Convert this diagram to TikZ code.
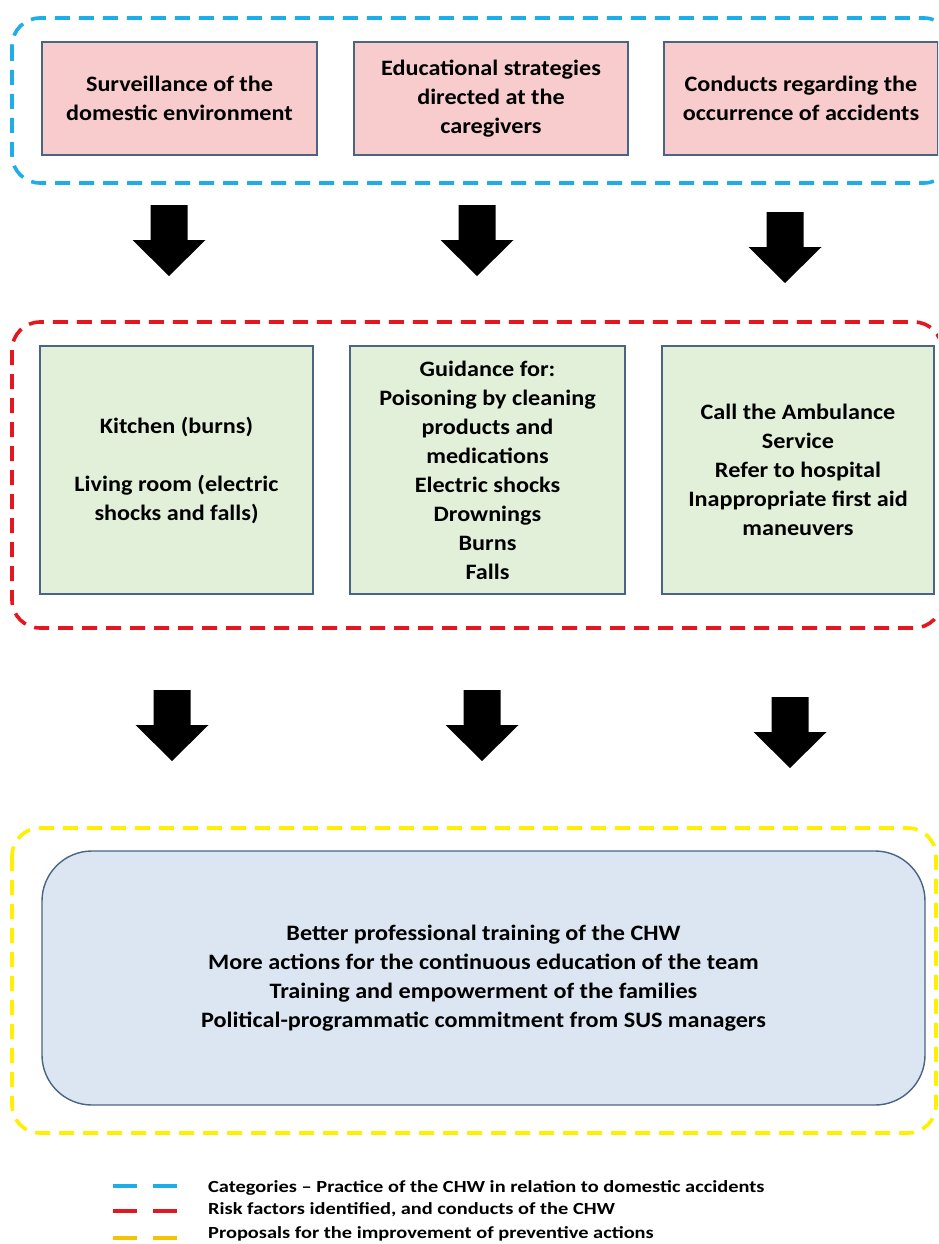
\documentclass[tikz,border=0pt]{standalone}
\usepackage{fontspec}
\setmainfont[FakeStretch=1.1]{Carlito}
\newfontfamily\legfont[FakeStretch=1.2]{Carlito}
\definecolor{pinkfill}{HTML}{F8CCCC}
\definecolor{greenfill}{HTML}{E2EFD9}
\definecolor{bluefill}{HTML}{DCE6F2}
\definecolor{boxedge}{HTML}{4A6584}
\definecolor{cyandash}{HTML}{1DAEEA}
\definecolor{reddash}{HTML}{E4161F}
\definecolor{yellowdash}{HTML}{FFF000}
\definecolor{legendyellow}{HTML}{F5C400}
\begin{document}
\begin{tikzpicture}[x=1pt,y=-1pt,
  font=\bfseries\fontsize{22}{29}\selectfont,
  catbox/.style={draw=boxedge, line width=1.8pt, fill=pinkfill, minimum height=113pt, align=center, inner sep=0pt},
  riskbox/.style={draw=boxedge, line width=1.8pt, fill=greenfill, minimum height=248pt, align=center, inner sep=0pt},
  propbox/.style={draw=boxedge, line width=1.4pt, fill=bluefill, rounded corners=50pt, minimum width=883pt, minimum height=254pt, align=center, inner sep=0pt},
  group/.style={line width=3.6pt, dash pattern=on 15pt off 9pt, rounded corners=28pt},
  legdash/.style={line width=4.5pt},
  legtext/.style={anchor=west, font=\legfont\bfseries\fontsize{17}{20}\selectfont, inner sep=0pt},
  blockdown/.pic={\fill[black] (-18.5,0) -- (18.5,0) -- (18.5,35) -- (36.5,35) -- (0,71) -- (-36.5,35) -- (-18.5,35) -- cycle;}
]
\useasboundingbox (0,0) rectangle (938,1244);
\clip (0,0) rectangle (938,1244);
\fill[white] (0,0) rectangle (938,1244);

% group outlines
\draw[group, draw=cyandash] (12,18) rectangle (952,183);
\draw[group, draw=reddash] (12,322) rectangle (942,628);
\draw[group, draw=yellowdash] (12,828) rectangle (936,1133);

% categories
\node[catbox, minimum width=275pt] (c1) at (179.5,98.5) {Surveillance of the\\domestic environment};
\node[catbox, minimum width=274pt] (c2) at (491,98.5) {Educational strategies\\directed at the\\caregivers};
\node[catbox, minimum width=274pt] (c3) at (801,98.5) {Conducts regarding the\\occurrence of accidents};

% arrows row 1
\pic at (169,205) {blockdown};
\pic at (477,205) {blockdown};
\pic at (785,212) {blockdown};

% risk factors
\node[riskbox, minimum width=273pt] (r1) at (176.5,470) {Kitchen (burns)\\[29pt]Living room (electric\\shocks and falls)};
\node[riskbox, minimum width=275pt] (r2) at (487.5,470) {Guidance for:\\Poisoning by cleaning\\products and\\medications\\Electric shocks\\Drownings\\Burns\\Falls};
\node[riskbox, minimum width=272pt] (r3) at (798,470) {Call the Ambulance\\Service\\Refer to hospital\\Inappropriate first aid\\maneuvers};

% arrows row 2
\pic at (172,690) {blockdown};
\pic at (482,690) {blockdown};
\pic at (790,697) {blockdown};

% proposals
\node[propbox] (p) at (483.5,978) {Better professional training of the CHW\\More actions for the continuous education of the team\\Training and empowerment of the families\\Political-programmatic commitment from SUS managers};

% legend
\draw[legdash, cyandash] (113,1186) -- (137,1186) (153,1186) -- (177,1186);
\draw[legdash, reddash] (113,1211) -- (137,1211) (153,1211) -- (177,1211);
\draw[legdash, legendyellow] (113,1238) -- (137,1238) (153,1238) -- (177,1238);
\node[legtext] (l1) at (208,1188) {Categories – Practice of the CHW in relation to domestic accidents};
\node[legtext] (l2) at (208,1210) {Risk factors identified, and conducts of the CHW};
\node[legtext] (l3) at (208,1234) {Proposals for the improvement of preventive actions};
\end{tikzpicture}
\end{document}
